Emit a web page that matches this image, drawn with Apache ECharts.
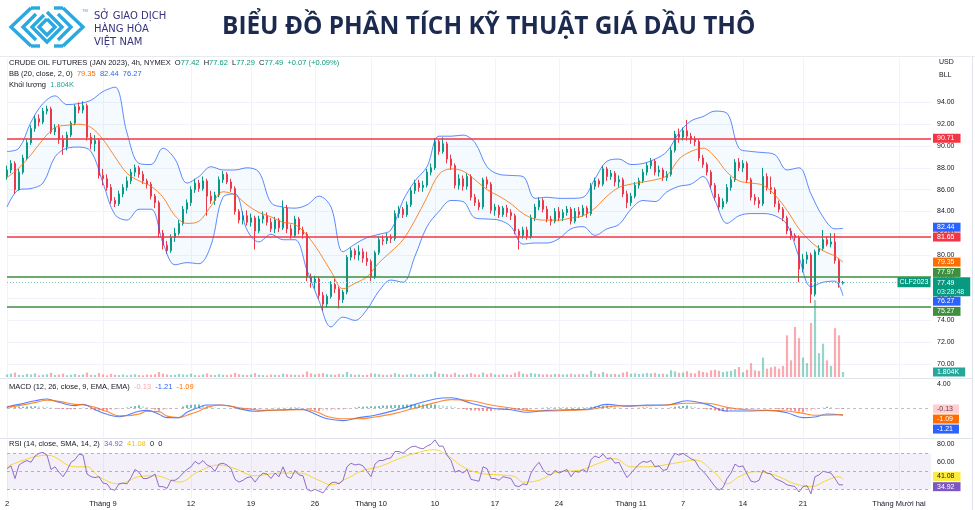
<!DOCTYPE html>
<html><head><meta charset="utf-8">
<script src="https://cdn.jsdelivr.net/npm/echarts/dist/echarts.min.js"></script>
<style>html,body{margin:0;padding:0;background:#fff}#c{width:975px;height:510px}</style>
</head><body><div id="c"></div>
<script>
// ---------------- DATA ----------------
// time axis: 4h bars, index 0..209 hold candles, 210..231 empty future space
const dateTickIndex = [0, 24, 46, 61, 77, 91, 107, 122, 138, 156, 169, 184, 199, 223];
const dateTickText = ['2', 'Tháng 9', '12', '19', '26', 'Tháng 10', '10', '17', '24', 'Tháng 11', '7', '14', '21', 'Tháng Mười hai'];
const categoryCount = 232;

// candles: [open, close, low, high]
const candles = [
[87.2,87.8,86.9,88.2],[87.8,88.4,87.5,88.7],[88.4,86.0,85.6,88.6],[86.0,87.6,85.9,87.9],[87.6,88.9,87.4,89.2],
[88.9,90.3,88.7,90.6],[90.3,91.6,90.1,91.9],[91.6,92.5,91.3,92.8],[92.5,92.2,91.8,92.9],[92.2,93.2,92.0,93.5],
[93.2,93.4,92.9,93.7],[93.4,91.3,91.1,93.6],[91.3,91.7,91.0,92.0],[91.7,90.6,90.2,92.0],[90.6,89.9,89.2,91.0],
[89.9,91.0,89.6,91.3],[91.0,92.1,90.8,92.3],[92.1,93.6,91.9,93.8],[93.6,93.3,93.0,94.0],[93.3,93.7,93.0,94.1],
[93.7,90.8,90.5,93.9],[90.8,90.2,89.7,91.2],[90.2,90.5,89.5,91.0],[90.5,87.3,87.0,90.7],[87.3,87.0,86.4,87.9],
[87.0,86.2,85.9,87.4],[86.2,85.0,84.7,86.5],[85.0,84.7,84.4,85.3],[84.7,85.6,84.5,85.9],[85.6,86.2,85.3,86.5],
[86.2,86.8,85.9,87.2],[86.8,87.6,86.5,87.9],[87.6,88.0,87.2,88.3],[88.0,87.4,87.1,88.2],[87.4,86.8,86.5,87.7],
[86.8,86.5,86.1,87.0],[86.5,85.4,85.1,86.7],[85.4,84.8,84.3,85.6],[84.8,82.0,81.6,85.0],[82.0,80.9,80.5,82.3],
[80.9,80.4,80.1,81.3],[80.4,81.6,80.2,81.9],[81.6,82.0,81.2,82.5],[82.0,82.9,81.8,83.2],[82.9,84.2,82.7,84.5],
[84.2,84.8,83.8,85.1],[84.8,86.0,84.5,86.3],[86.0,86.6,85.7,87.0],[86.6,86.1,85.8,86.9],[86.1,86.8,85.9,87.2],
[86.8,85.4,83.6,87.0],[85.4,85.0,84.7,85.9],[85.0,85.5,84.6,85.8],[85.5,86.9,85.3,87.2],[86.9,87.4,86.6,87.7],
[87.4,86.7,86.5,87.6],[86.7,86.1,85.8,87.0],[86.1,84.0,83.7,86.3],[84.0,83.2,82.9,84.2],[83.2,83.6,82.8,84.0],
[83.6,83.0,82.7,84.1],[83.0,83.4,82.6,83.8],[83.4,82.2,80.5,83.6],[82.2,83.3,82.0,83.6],[83.3,83.6,82.9,84.0],
[83.6,83.0,82.7,83.9],[83.0,82.4,82.1,83.4],[82.4,83.2,82.0,83.5],[83.2,82.5,82.1,83.4],[82.5,84.3,82.3,85.0],
[84.3,82.4,82.0,84.6],[82.4,81.8,81.5,82.8],[81.8,83.3,81.6,83.6],[83.3,82.3,81.9,83.5],[82.3,81.9,81.5,82.6],
[81.9,78.0,77.6,82.1],[78.0,77.5,77.0,78.3],[77.5,77.8,76.9,78.1],[77.8,76.3,76.0,78.0],[76.3,75.5,74.9,76.6],
[75.5,76.2,75.2,76.4],[76.2,77.3,76.0,77.6],[77.3,76.9,76.5,77.8],[76.9,75.9,75.1,77.1],[75.9,76.6,75.6,76.8],
[76.6,79.8,76.4,80.0],[79.8,80.4,79.5,80.7],[80.4,80.0,79.6,80.6],[80.0,80.3,79.5,80.9],[80.3,79.7,79.3,80.6],
[79.7,79.4,79.0,80.3],[79.4,78.0,77.6,79.6],[78.0,80.2,77.8,80.4],[80.2,81.4,80.0,81.7],[81.4,81.3,80.9,81.8],
[81.3,81.6,81.0,82.0],[81.6,81.5,81.1,81.9],[81.5,83.8,81.3,84.1],[83.8,84.2,83.4,84.5],[84.2,83.7,83.4,84.4],
[83.7,84.6,83.5,84.9],[84.6,85.9,84.4,86.2],[85.9,86.6,85.6,86.9],[86.6,86.2,85.8,86.9],[86.2,86.4,85.8,86.8],
[86.4,87.6,86.2,87.9],[87.6,88.0,87.3,88.4],[88.0,90.4,87.8,90.7],[90.4,89.5,89.2,90.6],[89.5,90.2,89.3,90.8],
[90.2,88.8,88.4,90.4],[88.8,88.2,87.8,89.2],[88.2,86.4,86.1,88.4],[86.4,87.0,86.0,87.4],[87.0,86.3,85.9,87.3],
[86.3,87.2,86.0,87.5],[87.2,85.3,85.0,87.4],[85.3,84.8,84.5,85.6],[84.8,84.4,84.1,85.1],[84.4,86.9,84.2,87.1],
[86.9,86.5,86.1,87.2],[86.5,84.1,83.8,86.7],[84.1,84.4,83.6,84.7],[84.4,83.7,83.4,84.6],[83.7,84.3,83.5,84.5],
[84.3,83.9,83.5,84.6],[83.9,83.6,83.2,84.2],[83.6,82.2,81.9,83.8],[82.2,81.8,80.5,82.4],[81.8,82.3,81.5,82.6],
[82.3,81.7,81.4,82.6],[81.7,83.4,81.5,83.7],[83.4,84.4,83.1,84.7],[84.4,85.0,84.1,85.3],[85.0,84.2,83.9,85.2],
[84.2,83.3,83.0,84.5],[83.3,83.1,82.7,83.6],[83.1,84.0,82.9,84.3],[84.0,83.4,83.1,84.4],[83.4,83.9,83.1,84.2],
[83.9,84.2,83.6,84.5],[84.2,83.1,82.8,84.4],[83.1,84.0,82.9,84.3],[84.0,83.7,83.4,84.4],[83.7,84.3,83.5,84.6],
[84.3,83.8,83.4,84.5],[83.8,86.3,83.6,86.6],[86.3,86.8,86.0,87.1],[86.8,86.5,86.2,87.0],[86.5,87.9,86.3,88.2],
[87.9,87.2,86.8,88.1],[87.2,87.5,86.9,87.8],[87.5,86.7,86.3,87.7],[86.7,86.9,86.2,87.3],[86.9,85.6,85.3,87.1],
[85.6,84.8,84.3,85.9],[84.8,85.4,84.5,85.7],[85.4,86.4,85.2,86.7],[86.4,86.8,86.1,87.1],[86.8,87.6,86.6,87.9],
[87.6,88.2,87.3,88.5],[88.2,88.6,87.9,88.9],[88.6,87.6,87.3,88.8],[87.6,87.8,87.2,88.2],[87.8,87.1,86.8,88.0],
[87.1,87.4,86.8,87.7],[87.4,89.6,87.2,89.9],[89.6,91.1,89.4,91.4],[91.1,90.8,90.3,91.6],[90.8,91.4,90.5,91.7],
[91.4,90.9,90.5,92.4],[90.9,90.6,90.2,91.2],[90.6,90.4,90.0,90.9],[90.4,88.9,88.6,90.6],[88.9,88.3,88.0,89.2],
[88.3,87.6,87.3,88.5],[87.6,86.4,86.1,87.8],[86.4,85.3,85.0,86.6],[85.3,84.4,84.1,85.6],[84.4,84.9,84.2,85.2],
[84.9,86.2,84.7,86.5],[86.2,86.9,85.9,87.2],[86.9,88.5,86.7,88.8],[88.5,88.0,87.7,88.9],[88.0,88.4,87.6,88.7],
[88.4,86.9,86.6,88.6],[86.9,85.3,85.0,87.1],[85.3,85.0,84.6,85.6],[85.0,84.7,84.3,85.3],[84.7,87.2,84.5,88.0],
[87.2,86.2,85.9,87.5],[86.2,86.0,85.6,87.2],[86.0,84.7,84.4,86.2],[84.7,84.2,83.9,85.0],[84.2,83.4,83.1,84.4],
[83.4,82.2,81.9,83.6],[82.2,81.8,81.4,82.5],[81.8,81.6,81.3,82.0],[81.6,78.7,77.5,81.8],[78.7,79.6,78.4,80.1],
[79.6,80.0,79.2,80.3],[80.0,76.4,75.6,80.2],[76.4,80.3,76.2,80.5],[80.3,80.6,80.0,80.9],[80.6,81.4,80.4,82.3],
[81.4,81.0,80.8,81.7],[81.0,81.2,80.7,82.0],[81.2,79.5,79.2,82.0],[79.5,77.42,77.0,79.7],[77.42,77.49,77.29,77.62]
];

// volume (thousands of contracts)
const volumes = [
0.9,1.2,1.6,0.8,0.7,1.1,0.9,1.3,0.6,0.8,1.0,1.5,0.7,0.9,1.2,0.6,0.8,1.1,0.7,0.9,
1.6,0.8,0.7,1.4,0.9,0.6,1.1,0.8,0.7,0.9,0.6,0.8,1.0,0.7,0.6,0.9,0.8,1.0,1.8,1.2,
0.9,0.7,0.8,1.1,0.9,0.8,1.2,0.7,0.6,0.9,1.3,0.8,0.7,1.0,0.8,0.7,0.9,1.5,1.0,0.8,
0.7,0.9,1.4,0.8,0.7,0.6,0.9,0.8,0.7,1.2,1.0,0.9,0.8,0.7,0.9,2.0,1.3,0.9,1.2,1.4,
1.0,0.9,0.8,1.1,0.9,1.8,1.0,0.8,0.9,0.7,0.8,1.3,1.2,1.0,0.8,0.7,0.9,1.4,1.0,0.8,
0.9,1.2,1.0,0.8,0.9,1.1,1.0,1.9,1.2,1.1,1.0,0.9,1.5,0.9,0.8,1.0,1.4,1.0,0.9,1.6,
1.0,1.4,0.9,0.8,1.0,0.9,0.8,1.5,2.0,1.2,1.0,1.4,1.2,1.1,0.9,1.0,0.9,1.1,1.0,0.9,
1.0,1.2,0.9,1.0,1.1,0.9,2.2,1.3,1.1,1.8,1.2,1.0,1.1,0.9,1.6,1.9,1.2,1.3,1.1,1.2,
1.4,1.3,1.5,1.1,1.2,1.0,2.4,2.0,1.5,1.6,2.1,1.4,1.3,2.3,1.8,1.6,2.4,2.6,2.2,1.8,
2.0,2.2,2.8,3.6,1.7,2.6,5.0,2.4,2.2,7.0,3.0,3.5,3.8,3.0,4.0,15.0,6.0,18.0,14.0,7.0,
5.0,19.5,27.7,8.6,12.0,6.0,4.0,17.6,15.0,1.804
];

// Bollinger Bands (20, close, 2) sampled at these bar indices
const bbIndex = [0,3,6,9,12,15,18,21,24,27,30,33,36,39,42,45,48,51,54,57,60,63,66,69,72,75,78,81,84,87,90,93,96,99,102,105,108,111,114,117,120,123,126,129,132,135,138,141,144,147,150,153,156,159,162,165,168,171,174,177,180,183,186,189,192,195,198,201,204,207,209];
const bbUpper = [89.5,89.8,92.2,93.9,94.6,93.8,93.9,94.2,95.0,95.4,91.2,88.4,88.3,89.8,88.8,86.6,87.2,88.1,87.8,87.8,88.0,87.6,84.8,84.4,84.3,84.6,85.4,84.4,80.3,81.0,81.6,81.9,82.3,85.0,86.8,88.1,90.9,90.9,91.0,90.3,88.1,87.4,87.3,87.2,85.2,85.3,85.2,85.2,85.3,87.0,88.6,88.8,88.3,88.4,88.8,89.5,91.2,92.3,92.7,93.2,93.0,89.8,89.5,89.4,89.2,87.8,88.0,85.6,83.5,82.4,82.44];
const bbBasis = [87.1,88.0,89.2,90.6,91.7,91.9,92.0,91.7,90.6,89.0,87.5,86.8,86.3,85.3,83.6,82.9,83.1,84.5,85.8,85.5,84.6,83.9,83.5,83.0,82.8,81.8,80.3,78.5,76.9,77.4,78.0,79.3,80.3,81.4,83.2,85.3,87.4,87.9,87.7,86.9,86.0,85.4,84.7,83.8,83.3,83.2,83.2,83.4,83.6,84.3,85.4,86.2,86.5,86.7,86.9,87.3,88.8,89.5,89.8,89.0,87.6,86.8,86.6,86.4,85.5,84.1,82.4,81.2,80.4,79.9,79.35];
const bbLower = [84.4,86.0,86.1,86.6,89.0,89.8,89.9,89.5,86.6,83.7,83.2,84.2,84.2,81.1,79.1,79.3,79.2,80.9,85.3,85.6,82.3,81.2,81.9,81.4,81.4,78.6,75.8,73.4,74.3,74.0,75.0,76.7,77.7,77.5,79.9,82.6,84.0,85.0,84.9,83.4,83.3,83.2,82.6,81.0,81.1,81.1,81.5,82.4,82.6,81.8,82.4,82.8,84.2,85.0,84.9,85.8,86.3,86.5,87.2,85.0,82.9,83.6,83.8,83.8,83.6,82.8,79.8,77.1,77.5,77.6,76.27];

// horizontal support / resistance levels
const resistanceLevels = [90.71, 81.65];
const supportLevels = [77.97, 75.27];
const lastPrice = 77.49;
const lastVolume = 1.804;
const countdownText = '03:28:48';
const symbolText = 'CLF2023';

// MACD (12, 26, close, 9)
const macdIndex = [0,3,7,10,13,17,19,22,25,28,30,33,35,38,40,43,45,48,50,53,56,58,62,65,69,73,75,78,80,84,88,92,97,102,107,111,116,121,126,130,135,140,145,150,155,160,165,170,175,180,185,190,195,199,202,205,209];
const macdLine = [0.2,0.6,1.2,1.5,0.95,0.4,0.6,-0.28,-1.05,-1.45,-1.2,-0.55,-0.4,-1.05,-1.6,-1.6,-0.7,0.1,0.5,0.5,0.3,-0.1,-0.55,-0.4,-0.3,-0.2,-0.4,-1.3,-1.8,-2.1,-1.6,-1.2,-0.4,0.6,1.5,1.7,0.8,0.0,-0.3,-0.7,-0.4,-0.3,-0.2,0.6,0.3,0.5,0.5,1.2,0.6,-0.5,-0.5,-0.4,-0.8,-1.6,-1.5,-1.0,-1.21];
const macdSignal = [0.1,0.4,0.9,1.3,1.1,0.6,0.55,0.1,-0.6,-1.3,-1.3,-1.0,-0.55,-0.6,-1.35,-1.6,-1.2,-0.5,0.1,0.5,0.3,0.05,-0.3,-0.4,-0.35,-0.3,-0.3,-0.8,-1.4,-1.8,-1.8,-1.5,-0.9,0.0,0.9,1.4,1.2,0.5,0.0,-0.4,-0.5,-0.4,-0.3,0.2,0.4,0.4,0.5,0.8,0.8,0.1,-0.3,-0.4,-0.5,-0.9,-1.2,-1.2,-1.09];
const macdHist = [
0.1,0.1,0.15,0.2,0.22,0.25,0.28,0.3,0.28,0.25,0.2,0.1,-0.05,-0.15,-0.18,-0.2,-0.2,-0.2,-0.1,0.05,
-0.1,-0.25,-0.38,-0.42,-0.45,-0.45,-0.35,-0.25,-0.15,-0.02,0.1,0.22,0.35,0.45,0.3,0.15,-0.05,-0.25,-0.45,-0.35,
-0.25,-0.15,-0.05,0.0,0.25,0.5,0.55,0.6,0.6,0.5,0.4,0.25,0.1,0.0,0.02,0.0,0.0,-0.08,-0.15,-0.18,
-0.2,-0.22,-0.25,-0.15,-0.05,0.0,0.02,0.03,0.04,0.05,0.06,0.08,0.1,0.1,0.0,-0.1,-0.25,-0.4,-0.5,-0.45,
-0.4,-0.38,-0.35,-0.32,-0.3,-0.15,0.0,0.1,0.2,0.22,0.25,0.28,0.3,0.35,0.4,0.42,0.45,0.5,0.52,0.55,
0.58,0.6,0.6,0.6,0.6,0.6,0.6,0.6,0.5,0.4,0.35,0.3,0.15,0.0,-0.15,-0.3,-0.4,-0.42,-0.45,-0.48,
-0.5,-0.5,-0.45,-0.4,-0.35,-0.32,-0.3,-0.3,-0.3,-0.3,-0.3,-0.2,-0.1,0.0,0.05,0.1,0.1,0.1,0.1,0.1,
0.1,0.1,0.1,0.1,0.1,0.1,0.2,0.25,0.3,0.35,0.4,0.3,0.2,0.1,0.0,-0.1,-0.05,0.0,0.05,0.1,
0.1,0.08,0.05,0.03,0.0,0.0,0.1,0.2,0.3,0.35,0.4,0.3,0.2,0.05,-0.1,-0.2,-0.3,-0.4,-0.5,-0.55,
-0.6,-0.5,-0.4,-0.3,-0.25,-0.2,-0.15,-0.1,-0.05,0.0,0.0,-0.05,-0.1,-0.2,-0.25,-0.3,-0.4,-0.5,-0.6,-0.7,
-0.6,-0.45,-0.3,-0.1,0.05,0.2,0.15,0.0,-0.08,-0.13
];

// RSI (14) and its SMA (14)
const rsi = [
53,56,42,57,60,62,60,67,70,71,68,52,55,49,44,51,60,63,69,68,
47,44,43,44,37,36,30,29,36,37,36,43,52,49,42,42,44,47,33,33,
31,40,40,43,48,52,55,61,58,62,57,55,50,58,59,57,53,41,38,40,
43,44,38,44,48,47,42,48,44,55,44,42,51,46,45,30,28,30,28,26,
32,37,38,36,40,55,59,57,58,56,50,44,58,62,62,64,65,72,72,70,
74,77,78,76,75,78,80,85,78,78,68,62,49,51,48,52,41,40,39,55,
53,42,42,40,44,43,42,34,33,36,35,48,55,60,52,47,46,51,48,50,
52,44,50,49,52,49,63,67,65,69,64,65,59,60,51,43,48,53,58,61,
60,62,55,56,51,52,63,70,68,70,67,64,62,54,50,45,39,33,29,32,
42,48,58,55,56,47,39,38,40,51,48,47,42,40,38,35,34,33,27,33,
34,25,44,46,50,49,48,42,35,34.92
];
const rsiSmaIndex = [0,10,17,20,23,28,33,37,43,48,53,57,62,68,73,78,81,85,89,93,98,102,107,110,114,118,123,127,129,133,138,143,148,152,156,160,167,172,177,180,183,187,190,193,197,201,205,208,209];
const rsiSma = [55,68,55,55,44,36,44,45,38,50,57,53,45,48,48,40,35,42,51,55,64,70,74,68,55,48,46,44,38,40,49.6,51,59,64,55,55,59,62.5,48,36,44,49.6,48,44,36,33,40,44,41.08];

// ---------------- CHART ----------------
const FF = "'Liberation Sans', Arial, sans-serif";
const UP = '#089981', DOWN = '#f23645';
const BLUE = '#2962ff', ORANGE = '#ff6d00', PURPLE = '#7e57c2', YELLOW = '#f5d427';
const GRIDC = '#f0f3fa';
const LFS = 7.5; // legend font size

const cats = [];
for (let i = 0; i < categoryCount; i++) cats.push(String(i));
const tickMap = {};
dateTickIndex.forEach((ix, k) => { tickMap[ix] = dateTickText[k]; });
const isTick = (idx) => tickMap[idx] !== undefined;

const pairs = (idx, vals) => idx.map((x, k) => [x, vals[k]]);
const last = candles[candles.length - 1];

function tag(bg, fg, offY, text) {
  return { show: true, position: 'end', distance: 2, formatter: text,
    backgroundColor: bg, color: fg, fontSize: 7, fontFamily: FF,
    padding: [1, 6, 0, 4], lineHeight: 8, offset: [0, offY || 0] };
}
const NOLINE = { color: 'rgba(0,0,0,0)', width: 0 };

function xAxisFor(gridIndex, showLabels) {
  return {
    type: 'category', gridIndex, data: cats, boundaryGap: false,
    axisLine: { show: false }, axisTick: { show: false },
    axisLabel: showLabels ? {
      show: true, interval: (i) => isTick(i), formatter: (v, i) => tickMap[i] || '',
      color: '#131722', fontSize: 7.5, fontFamily: FF, margin: 2
    } : { show: false },
    splitLine: { show: gridIndex !== 1, interval: (i) => isTick(i), lineStyle: { color: GRIDC, width: 1 } }
  };
}

const priceSplitColors = ['rgba(0,0,0,0)'];
for (let v = 70; v <= 94; v += 2) priceSplitColors.push(GRIDC);
priceSplitColors.push('rgba(0,0,0,0)', 'rgba(0,0,0,0)');

const levelMarks = [];
resistanceLevels.forEach(v => levelMarks.push({ yAxis: v, lineStyle: { color: DOWN, width: 1.5, type: 'solid' }, label: tag(DOWN, '#fff', 0, v.toFixed(2)) }));
const supOffsets = [-4.7, 4.8];
supportLevels.forEach((v, k) => levelMarks.push({ yAxis: v, lineStyle: { color: '#3f8f3f', width: 1.5, type: 'solid' }, label: tag('#3f8f3f', '#fff', supOffsets[k], v.toFixed(2)) }));
levelMarks.push({ yAxis: lastPrice, lineStyle: { color: '#7cc7b9', width: 1, type: [1, 2] },
  label: Object.assign(tag(UP, '#fff', 4.5, '{a|' + lastPrice.toFixed(2) + '}\n{b|' + countdownText + '}'), {
    rich: { a: { color: '#fff', fontSize: 7, fontFamily: FF, lineHeight: 9 }, b: { color: '#e0f2ef', fontSize: 7, fontFamily: FF, lineHeight: 9 } } }) });

const volData = volumes.map((v, i) => ({ value: v, itemStyle: { color: candles[i][1] >= candles[i][0] ? 'rgba(8,153,129,0.42)' : 'rgba(242,54,69,0.42)' } }));
const histData = macdHist.map((v, i) => {
  const prev = i > 0 ? macdHist[i - 1] : v;
  let c;
  if (v >= 0) c = v >= prev ? 'rgba(38,166,154,0.75)' : 'rgba(178,223,219,0.9)';
  else c = v <= prev ? 'rgba(255,82,82,0.7)' : 'rgba(255,205,210,0.95)';
  return { value: v, itemStyle: { color: c } };
});

const LOGO = '#2aa9e0';
const logoLines = [
  [[31,8],[11,27],[31,46]], [[36,14],[23,27],[36,40]],
  [[63,8],[83,27],[63,46]], [[58,14],[71,27],[58,40]],
  [[31,8],[40,8]], [[54,8],[63,8]], [[31,46],[40,46]], [[54,46],[63,46]],
  [[47,12],[62,27],[47,42],[32,27],[44,15]], [[47,19],[55,27],[47,35],[39,27],[47,19]]
];

function legendText(y, text, rich) {
  return { type: 'text', silent: true, z: 100, x: 9, y, style: { verticalAlign: 'middle', fill: '#131722', fontSize: LFS, fontFamily: FF, text, rich } };
}
const rs = (color) => ({ fill: color, fontSize: LFS, fontFamily: FF });

const option = {
  animation: false,
  backgroundColor: '#ffffff',
  grid: [
    { left: 7, right: 44, top: 58.8, height: 327 },
    { left: 7, right: 44, top: 277, height: 100 },
    { left: 7, right: 44, top: 378, height: 60 },
    { left: 7, right: 44, top: 439.8, height: 58.5 }
  ],
  xAxis: [xAxisFor(0, false), xAxisFor(1, false), xAxisFor(2, false), xAxisFor(3, true)],
  yAxis: [
    { gridIndex: 0, position: 'right', min: 68, max: 98, interval: 2, scale: true,
      axisLine: { show: false }, axisTick: { show: false },
      axisLabel: { formatter: v => (v >= 70 && v <= 94) ? v.toFixed(2) : '', color: '#131722', fontSize: 7, fontFamily: FF, margin: 6 },
      splitLine: { show: true, lineStyle: { color: priceSplitColors, width: 1 } } },
    { gridIndex: 1, min: 0, max: 36, show: false },
    { gridIndex: 2, position: 'right', min: -5, max: 5, interval: 1,
      axisLine: { show: false }, axisTick: { show: false }, splitLine: { show: false },
      axisLabel: { formatter: v => v === 4 ? '4.00' : '', color: '#131722', fontSize: 7, fontFamily: FF, margin: 6 } },
    { gridIndex: 3, position: 'right', min: 20, max: 85, interval: 5,
      axisLine: { show: false }, axisTick: { show: false }, splitLine: { show: false },
      axisLabel: { formatter: v => (v === 80 || v === 60) ? v.toFixed(2) : '', color: '#131722', fontSize: 7, fontFamily: FF, margin: 6 } }
  ],
  series: [
    { name: 'vol', type: 'bar', xAxisIndex: 1, yAxisIndex: 1, data: volData, barWidth: 2.2, silent: true,
      markLine: { silent: true, symbol: ['none', 'none'], data: [{ yAxis: lastVolume, lineStyle: NOLINE, label: tag('#26a69a', '#fff', 0, lastVolume.toFixed(3) + 'K') }] } },
    { name: 'bbBase', type: 'line', xAxisIndex: 0, yAxisIndex: 0, data: pairs(bbIndex, bbLower), stack: 'bb', smooth: 0.35,
      symbol: 'none', lineStyle: { width: 0, opacity: 0 }, silent: true },
    { name: 'bbFill', type: 'line', xAxisIndex: 0, yAxisIndex: 0, data: bbIndex.map((x, k) => [x, bbUpper[k] - bbLower[k]]), stack: 'bb', smooth: 0.35,
      symbol: 'none', lineStyle: { width: 0, opacity: 0 }, areaStyle: { color: 'rgba(33,150,243,0.07)' }, silent: true },
    { name: 'bbUpper', type: 'line', xAxisIndex: 0, yAxisIndex: 0, data: pairs(bbIndex, bbUpper), smooth: 0.35, symbol: 'none',
      lineStyle: { color: BLUE, width: 1, opacity: 0.75 }, silent: true,
      markLine: { silent: true, symbol: ['none', 'none'], data: [{ yAxis: bbUpper[bbUpper.length - 1], lineStyle: NOLINE, label: tag(BLUE, '#fff', -1.2, bbUpper[bbUpper.length - 1].toFixed(2)) }] } },
    { name: 'bbLower', type: 'line', xAxisIndex: 0, yAxisIndex: 0, data: pairs(bbIndex, bbLower), smooth: 0.35, symbol: 'none',
      lineStyle: { color: BLUE, width: 1, opacity: 0.75 }, silent: true,
      markLine: { silent: true, symbol: ['none', 'none'], data: [{ yAxis: bbLower[bbLower.length - 1], lineStyle: NOLINE, label: tag(BLUE, '#fff', 5.5, bbLower[bbLower.length - 1].toFixed(2)) }] } },
    { name: 'bbBasis', type: 'line', xAxisIndex: 0, yAxisIndex: 0, data: pairs(bbIndex, bbBasis), smooth: 0.35, symbol: 'none',
      lineStyle: { color: ORANGE, width: 1, opacity: 0.8 }, silent: true,
      markLine: { silent: true, symbol: ['none', 'none'], data: [{ yAxis: bbBasis[bbBasis.length - 1], lineStyle: NOLINE, label: tag(ORANGE, '#fff', 0, bbBasis[bbBasis.length - 1].toFixed(2)) }] } },
    { name: 'price', type: 'candlestick', xAxisIndex: 0, yAxisIndex: 0, data: candles, barWidth: 2.2, silent: true,
      itemStyle: { color: UP, color0: DOWN, borderColor: UP, borderColor0: DOWN, borderWidth: 1 },
      markLine: { silent: true, symbol: ['none', 'none'], data: levelMarks },
      markPoint: { silent: true, data: [{ coord: [categoryCount - 1, lastPrice], symbol: 'rect', symbolSize: [33, 10], symbolOffset: [-17, 0],
        itemStyle: { color: UP }, label: { show: true, position: 'inside', formatter: symbolText, color: '#fff', fontSize: 7, fontFamily: FF } }] } },
    { name: 'hist', type: 'bar', xAxisIndex: 2, yAxisIndex: 2, data: histData, barWidth: 1.8, silent: true,
      markLine: { silent: true, symbol: ['none', 'none'], data: [
        { yAxis: 0, lineStyle: { color: '#9598a1', width: 1, type: [3, 3], opacity: 0.6 }, label: { show: false } },
        { yAxis: macdHist[macdHist.length - 1], lineStyle: NOLINE, label: tag('#ffcdd2', '#5d4037', 0.2, macdHist[macdHist.length - 1].toFixed(2)) }] } },
    { name: 'macd', type: 'line', xAxisIndex: 2, yAxisIndex: 2, data: pairs(macdIndex, macdLine), smooth: 0.4, symbol: 'none',
      lineStyle: { color: BLUE, width: 1.1, opacity: 0.8 }, silent: true,
      markLine: { silent: true, symbol: ['none', 'none'], data: [{ yAxis: macdLine[macdLine.length - 1], lineStyle: NOLINE, label: tag(BLUE, '#fff', 13.8, macdLine[macdLine.length - 1].toFixed(2)) }] } },
    { name: 'signal', type: 'line', xAxisIndex: 2, yAxisIndex: 2, data: pairs(macdIndex, macdSignal), smooth: 0.4, symbol: 'none',
      lineStyle: { color: ORANGE, width: 1.1, opacity: 0.8 }, silent: true,
      markLine: { silent: true, symbol: ['none', 'none'], data: [{ yAxis: macdSignal[macdSignal.length - 1], lineStyle: NOLINE, label: tag(ORANGE, '#fff', 4.5, macdSignal[macdSignal.length - 1].toFixed(2)) }] } },
    { name: 'rsiSma', type: 'line', xAxisIndex: 3, yAxisIndex: 3, data: pairs(rsiSmaIndex, rsiSma), smooth: 0.4, symbol: 'none',
      lineStyle: { color: YELLOW, width: 1, opacity: 0.9 }, silent: true,
      markLine: { silent: true, symbol: ['none', 'none'], data: [{ yAxis: rsiSma[rsiSma.length - 1], lineStyle: NOLINE, label: tag('#ffeb3b', '#131722', -2.8, rsiSma[rsiSma.length - 1].toFixed(2)) }] } },
    { name: 'rsi', type: 'line', xAxisIndex: 3, yAxisIndex: 3, data: rsi, symbol: 'none',
      lineStyle: { color: PURPLE, width: 1, opacity: 0.85 }, silent: true,
      markArea: { silent: true, itemStyle: { color: 'rgba(126,87,194,0.09)' }, data: [[{ yAxis: 30 }, { yAxis: 70 }]] },
      markLine: { silent: true, symbol: ['none', 'none'], data: [
        { yAxis: 70, lineStyle: { color: '#9598a1', width: 1, type: [3, 3], opacity: 0.7 }, label: { show: false } },
        { yAxis: 50, lineStyle: { color: '#9598a1', width: 1, type: [3, 3], opacity: 0.7 }, label: { show: false } },
        { yAxis: 30, lineStyle: { color: '#9598a1', width: 1, type: [3, 3], opacity: 0.7 }, label: { show: false } },
        { yAxis: rsi[rsi.length - 1], lineStyle: NOLINE, label: tag(PURPLE, '#fff', 1.8, rsi[rsi.length - 1].toFixed(2)) }] } }
  ],
  graphic: [
    { type: 'line', silent: true, shape: { x1: 0, y1: 56.5, x2: 975, y2: 56.5 }, style: { stroke: '#e8eaef', lineWidth: 1 } },
    { type: 'line', silent: true, shape: { x1: 0, y1: 378.5, x2: 972, y2: 378.5 }, style: { stroke: '#e0e3eb', lineWidth: 1 } },
    { type: 'line', silent: true, shape: { x1: 0, y1: 438.5, x2: 972, y2: 438.5 }, style: { stroke: '#e0e3eb', lineWidth: 1 } },
    { type: 'line', silent: true, shape: { x1: 972.5, y1: 57, x2: 972.5, y2: 510 }, style: { stroke: '#e0e3eb', lineWidth: 1 } },
    { type: 'group', silent: true, children: logoLines.map(pts => ({ type: 'polyline', shape: { points: pts }, style: { stroke: LOGO, lineWidth: 3.4, fill: null, lineJoin: 'miter' } })) },
    { type: 'text', silent: true, x: 82, y: 9, style: { text: 'TM', fill: LOGO, fontSize: 4, fontFamily: FF } },
    { type: 'text', silent: true, x: 94, y: 16, style: { text: 'SỞ GIAO DỊCH', fill: '#35337c', fontSize: 10, fontFamily: "'DejaVu Sans', sans-serif", verticalAlign: 'middle' } },
    { type: 'text', silent: true, x: 94, y: 29, style: { text: 'HÀNG HÓA', fill: '#35337c', fontSize: 10, fontFamily: "'DejaVu Sans', sans-serif", verticalAlign: 'middle' } },
    { type: 'text', silent: true, x: 94, y: 42, style: { text: 'VIỆT NAM', fill: '#35337c', fontSize: 10, fontFamily: "'DejaVu Sans', sans-serif", verticalAlign: 'middle' } },
    { type: 'text', silent: true, x: 222, y: 27, style: { text: 'BIỂU ĐỒ PHÂN TÍCH KỸ THUẬT GIÁ DẦU THÔ', fill: '#1b2a4e', fontSize: 24.4, fontWeight: 'bold', fontFamily: "'Open Sans', sans-serif", verticalAlign: 'middle' } },
    legendText(63, '{n|CRUDE OIL FUTURES (JAN 2023), 4h, NYMEX}  {n|O}{g|' + last[0].toFixed(2) + '}  {n|H}{g|' + last[3].toFixed(2) + '}  {n|L}{g|' + last[2].toFixed(2) + '}  {n|C}{g|' + last[1].toFixed(2) + '}  {g|+0.07 (+0.09%)}',
      { n: rs('#131722'), g: rs(UP) }),
    legendText(74, '{n|BB (20, close, 2, 0)}  {o|' + bbBasis[bbBasis.length - 1].toFixed(2) + '}  {b|' + bbUpper[bbUpper.length - 1].toFixed(2) + '}  {b|' + bbLower[bbLower.length - 1].toFixed(2) + '}',
      { n: rs('#131722'), o: rs(ORANGE), b: rs(BLUE) }),
    legendText(85, '{n|Khối lượng}  {g|' + lastVolume.toFixed(3) + 'K}', { n: rs('#131722'), g: rs('#26a69a') }),
    legendText(387, '{n|MACD (12, 26, close, 9, EMA, EMA)}  {p|' + macdHist[macdHist.length - 1].toFixed(2) + '}  {b|' + macdLine[macdLine.length - 1].toFixed(2) + '}  {o|' + macdSignal[macdSignal.length - 1].toFixed(2) + '}',
      { n: rs('#131722'), p: rs('#f7a9b0'), b: rs(BLUE), o: rs(ORANGE) }),
    legendText(444, '{n|RSI (14, close, SMA, 14, 2)}  {p|' + rsi[rsi.length - 1].toFixed(2) + '}  {y|' + rsiSma[rsiSma.length - 1].toFixed(2) + '}  {n|0}  {n|0}',
      { n: rs('#131722'), p: rs(PURPLE), y: rs('#f0c419') }),
    { type: 'text', silent: true, x: 939, y: 62, style: { text: 'USD', fill: '#131722', fontSize: 7, fontFamily: FF, verticalAlign: 'middle' } },
    { type: 'text', silent: true, x: 939, y: 75, style: { text: 'BLL', fill: '#131722', fontSize: 7, fontFamily: FF, verticalAlign: 'middle' } }
  ]
};

const chart = echarts.init(document.getElementById('c'), null, { renderer: 'canvas', width: 975, height: 510 });
chart.setOption(option);
</script>
</body></html>
